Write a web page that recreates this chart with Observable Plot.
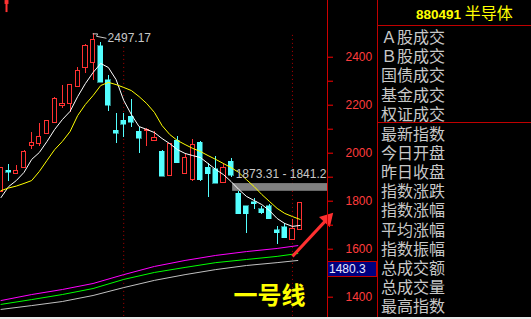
<!DOCTYPE html>
<html><head><meta charset="utf-8">
<script src="https://cdn.jsdelivr.net/npm/d3@7"></script>
<script src="https://cdn.jsdelivr.net/npm/@observablehq/plot@0.6"></script>
<style>
html,body{margin:0;padding:0;background:#000;}
#wrap{position:relative;width:531px;height:319px;background:#000;overflow:hidden;font-family:"Liberation Sans",sans-serif;}
#chart{position:absolute;left:0;top:0;}
#panel{position:absolute;left:377px;top:0;width:154px;height:319px;border-left:1px solid #c00000;box-sizing:border-box;}
.hline{position:absolute;left:0;width:154px;height:0;border-top:1px solid #c00000;}
.items{position:absolute;left:3px;font-family:"Noto Sans CJK SC",sans-serif;font-size:16px;line-height:19.2px;color:#c8c8c8;white-space:nowrap;}
#title{position:absolute;left:38px;top:0px;line-height:23px;color:#ffff00;white-space:nowrap;}
#price{position:absolute;left:327px;width:50px;height:16px;background:#000080;border:1px solid #c00000;box-sizing:border-box;color:#e8e8ff;font-size:12px;line-height:14px;padding-left:1px;}
#strip{position:absolute;left:0;top:317px;width:531px;height:2px;background:#e8e8e8;}
</style></head>
<body>
<div id="wrap">
  <div id="chart"></div>
  <div id="panel">
    <div id="title"><span style="font:bold 13.5px 'Liberation Sans'">880491</span><span style="font:16px 'Noto Sans CJK SC'"> 半导体</span></div>
    <div class="hline" style="top:25px"></div>
    <div class="items" id="group1" style="top:27px"></div>
    <div class="hline" style="top:122px"></div>
    <div class="items" id="group2" style="top:123.5px"></div>
  </div>
  <div id="price"></div>
  <div id="strip"></div>
</div>
<script>
// ---------- data ----------
const opens  = [1837,1926,1913,1940,2031,2039,2081,2127,2198,2206,2277,2353,2374,2445,2303,2093,2135,2152,2089,2093,2052,2005,1905,2052,1913,1888,2043,1939,1934,1876,1964,1830,1779,1796,1767,1779,1679,1692,1637,1679];
const closes = [1937,1918,1926,2005,2043,2068,2135,2227,2206,2286,2344,2445,2470,2294,2198,2081,2118,2127,2060,2098,2064,1901,2039,1959,1980,2035,1888,1913,1872,1939,1905,1746,1746,1788,1750,1725,1666,1646,1683,1792];
const highs  = [1937,1951,1947,2010,2085,2123,2135,2231,2282,2286,2357,2453,2497.17,2461,2323,2164,2164,2223,2106,2102,2089,2010,2039,2068,1993,2056,2047,1955,1985,1955,1976,1842,1779,1813,1779,1788,1696,1708,1725,1792];
const lows   = [1837,1884,1913,1940,2014,2026,2077,2127,2185,2169,2277,2332,2302,2294,2173,2039,2064,2106,1997,2026,2047,1901,1905,1959,1913,1884,1880,1817,1872,1872,1897,1746,1666,1767,1746,1725,1621,1646,1637,1679];
const maWhite  = [1815,1861,1886,1920,1974,2003,2049,2099,2140,2174,2236,2290,2336,2374,2357,2307,2220,2161,2111,2099,2086,2061,2040,2015,1999,1990,1982,1957,1932,1911,1882,1849,1820,1803,1786,1761,1728,1707,1695,1699];
const maYellow = [1844,1855,1863,1874,1886,1924,1970,2015,2049,2090,2157,2203,2240,2282,2295,2286,2274,2261,2236,2207,2170,2115,2078,2053,2036,2020,2007,1990,1974,1957,1940,1920,1890,1861,1828,1799,1770,1749,1736,1724];
const longIdx   = [0,4,8,12,16,20,24,28,32,36,38.7];
const maMagenta = [1386,1411,1432,1457,1494,1528,1553,1574,1590,1603,1615];
const maGreen   = [1370,1390,1411,1436,1474,1503,1524,1544,1557,1570,1582];
const maGray    = [1349,1365,1382,1407,1440,1470,1494,1515,1532,1544,1553];
const yTicks  = [1400,1500,1600,1700,1800,1900,2000,2100,2200,2300,2400];
const yLabels = [1400,1600,1800,2000,2200,2400];
const markerIdx = [16, 38];
const markerTop = [2450, 2497];
const peak = {i: 12, v: 2497.17, label: "2497.17"};
const rangeHi = 1873.31, rangeLo = 1841.2, rangeStart = 30.2;
const rangeLabel = "1873.31 - 1841.2";
const lastPrice = "1480.3", lastValue = 1480.3;
const noteText = "一号线";
const panelTop = ["Ａ股成交","Ｂ股成交","国债成交","基金成交","权证成交"];
const panelBottom = ["最新指数","今日开盘","昨日收盘","指数涨跌","指数涨幅","平均涨幅","指数振幅","总成交额","总成交量","最高指数","最低指数"];

// ---------- build ----------
const RED = "#ff3232", CYAN = "#54ffff";
const candles = opens.map((o, i) => ({i, o, c: closes[i], h: highs[i], l: lows[i]}));
const up = candles.filter(d => d.c >= d.o);
const down = candles.filter(d => d.c < d.o);
const white = maWhite.map((v, i) => ({i, v}));
const yellow = maYellow.map((v, i) => ({i, v}));
const mag = longIdx.map((i, k) => ({i, v: maMagenta[k]}));
const grn = longIdx.map((i, k) => ({i, v: maGreen[k]}));
const gry = longIdx.map((i, k) => ({i, v: maGray[k]}));
const markers = markerIdx.map((i, k) => ({i, top: markerTop[k]}));
const XMIN = -0.065, XMAX = 42.57;

const chart = Plot.plot({
  width: 377, height: 319,
  marginLeft: 0, marginRight: 50, marginTop: 0, marginBottom: 0,
  style: {background: "black", color: "#ff3c3c", fontFamily: "Liberation Sans", fontSize: "12px", overflow: "visible"},
  x: {type: "linear", domain: [XMIN, XMAX], axis: null},
  y: {domain: [1307, 2636.3], axis: null},
  marks: [
    Plot.ruleX(markers, {x: "i", y1: 1320, y2: "top", stroke: "#b00000", strokeDasharray: "1,3", strokeWidth: 1}),
    Plot.line(gry, {x: "i", y: "v", stroke: "#c0c0c0", strokeWidth: 1}),
    Plot.line(grn, {x: "i", y: "v", stroke: "#00ff00", strokeWidth: 1}),
    Plot.line(mag, {x: "i", y: "v", stroke: "#ff00ff", strokeWidth: 1}),
    Plot.rect([{x1: rangeStart, x2: XMAX, y1: rangeLo, y2: rangeHi}], {x1: "x1", x2: "x2", y1: "y1", y2: "y2", fill: "#808080"}),
    Plot.ruleX(up, {x: "i", y1: "h", y2: "c", stroke: RED, shapeRendering: "crispEdges"}),
    Plot.ruleX(up, {x: "i", y1: "o", y2: "l", stroke: RED, shapeRendering: "crispEdges"}),
    Plot.ruleX(down, {x: "i", y1: "h", y2: "l", stroke: CYAN, shapeRendering: "crispEdges"}),
    Plot.rect(down, {x1: d => d.i - 0.33, x2: d => d.i + 0.33, y1: "o", y2: "c", fill: CYAN, stroke: CYAN, strokeWidth: 0.5, shapeRendering: "crispEdges"}),
    Plot.rect(up, {x1: d => d.i - 0.28, x2: d => d.i + 0.28, y1: "o", y2: "c", fill: "black", stroke: RED, strokeWidth: 1, shapeRendering: "crispEdges"}),
    Plot.line(white, {x: "i", y: "v", stroke: "#ffffff", strokeWidth: 1}),
    Plot.line(yellow, {x: "i", y: "v", stroke: "#ffff00", strokeWidth: 1}),
    Plot.text([rangeLabel], {x: 30.6, y: 1911, text: d => d, textAnchor: "start", fill: "#c8c8c8", fontSize: 12}),
    Plot.line([{i: peak.i, v: peak.v}, {i: peak.i + 0.6, v: peak.v}, {i: peak.i + 0.45, v: peak.v - 10}, {i: peak.i + 1.7, v: peak.v - 18}], {x: "i", y: "v", stroke: "#c8c8c8", strokeWidth: 1}),
    Plot.text([peak], {x: d => d.i + 1.9, y: 2478, text: "label", textAnchor: "start", fill: "#c8c8c8", fontSize: 12}),
    Plot.ruleX([0.72], {y1: 2586, y2: 2636, stroke: RED, strokeWidth: 2}),
    Plot.dot([0.72], {x: d => d, y: 2630, symbol: "square", r: 2.2, fill: RED}),
    Plot.text([noteText], {x: 30.3, y: 1403, text: d => d, textAnchor: "start", fill: "#ffff00", fontSize: 24, fontWeight: "bold", fontFamily: "Noto Sans CJK SC"}),
    Plot.link([{x1: 38.0, y1: 1570, x2: 42.3, y2: 1718}], {x1: "x1", y1: "y1", x2: "x2", y2: "y2", stroke: "#ff3030", strokeWidth: 3}),
    Plot.dot([{x: 42.55, y: 1726}], {x: "x", y: "y", symbol: "triangle", r: 5.5, fill: "#ff3030", rotate: 43}),
    Plot.ruleX([XMAX], {stroke: "#cc0000"}),
    Plot.axisY({anchor: "right", ticks: yTicks, tickSize: 5, tickPadding: 13, stroke: "#ff0000",
      tickFormat: d => yLabels.includes(d) ? String(d) : "", fill: "#ff3c3c", fontSize: 12})
  ]
});
document.getElementById("chart").appendChild(chart);

const ys = chart.scale("y");
const pb = document.getElementById("price");
pb.textContent = lastPrice;
pb.style.top = (ys.apply(lastValue) - 16) + "px";

document.getElementById("group1").innerHTML = panelTop.map(t => `<div>${t}</div>`).join("");
document.getElementById("group2").innerHTML = panelBottom.map(t => `<div>${t}</div>`).join("");
</script>
</body></html>
